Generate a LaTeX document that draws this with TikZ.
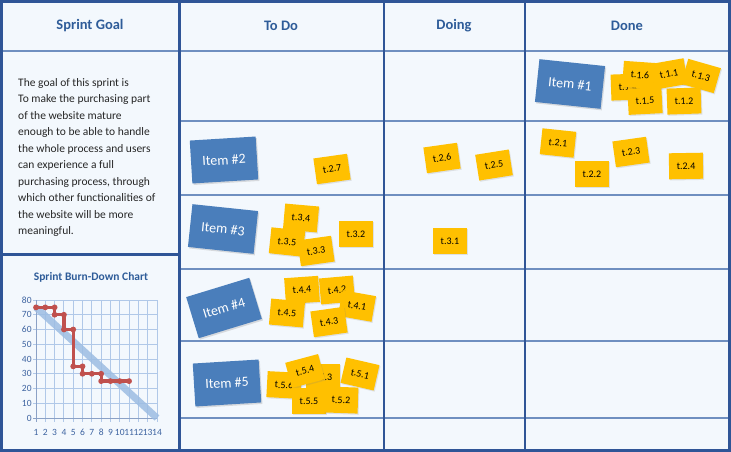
\documentclass[tikz,border=0pt]{standalone}
\usepackage{fontspec}
\setmainfont{Carlito}
\usetikzlibrary{shadows}
\definecolor{frameblue}{HTML}{2F5597}
\definecolor{lineblue}{HTML}{6F8FC0}
\definecolor{headblue}{HTML}{2E5C99}
\definecolor{bgblue}{HTML}{F3F8FD}
\definecolor{itemblue}{HTML}{4A7EBB}
\definecolor{stickyyellow}{HTML}{FFC000}
\definecolor{burnred}{HTML}{C0504D}
\definecolor{idealblue}{HTML}{9DBDE3}
\definecolor{gridblue}{HTML}{B0C8E8}
\definecolor{axisblue}{HTML}{3D63A0}
\tikzset{
  frameline/.style={draw=frameblue, line width=3pt},
  thinframe/.style={draw=frameblue, line width=1.4pt},
  rowline/.style={draw=lineblue, line width=1.4pt},
  head/.style={text=headblue, font=\fontsize{14.5}{16}\selectfont\bfseries, inner sep=0pt},
  goalline/.style={anchor=base west, inner sep=0pt, text=black!85, font=\fontsize{11.5}{13}\selectfont},
  itemcard/.style={fill=itemblue, text=white, minimum width=66pt, minimum height=43pt, inner sep=0pt,
    font=\fontsize{14}{15}\selectfont, drop shadow={opacity=0.25, shadow xshift=1.2pt, shadow yshift=-1.5pt}},
  sticky/.style={fill=stickyyellow, text=black, minimum width=34pt, minimum height=26pt, inner sep=0pt,
    font=\fontsize{10}{11}\selectfont, drop shadow={opacity=0.2, shadow xshift=1pt, shadow yshift=-1.2pt}},
  axislabel/.style={text=axisblue, font=\fontsize{9.5}{10}\selectfont, inner sep=0pt},
  charttitle/.style={text=headblue, font=\fontsize{11.5}{13}\selectfont\bfseries, inner sep=0pt},
  burnpt/.style={fill=burnred, draw=none}
}
\begin{document}
\begin{tikzpicture}[x=1pt,y=-1pt]
\useasboundingbox (0,0) rectangle (731,452);
% background
\fill[white] (0,0) rectangle (731,452);
\fill[bgblue] (1.5,1.5) rectangle (729.5,450.5);
% grid of board
\draw[rowline] (2,51) -- (729,51);
\foreach \yy in {121,195,269,341,418} \draw[rowline] (179,\yy) -- (729,\yy);
\draw[thinframe] (384,2) -- (384,450);
\draw[thinframe] (525,2) -- (525,450);
\draw[frameline] (179,2) -- (179,450);
\draw[frameline] (2,254) -- (179,254);
\draw[frameline] (1.5,1.5) rectangle (729.5,450.5);
% headers
\node[head] (hgoal) at (90,26) {Sprint Goal};
\node[head] (htodo) at (281,26) {To Do};
\node[head] (hdoing) at (454,26) {Doing};
\node[head] (hdone) at (627,26) {Done};
% goal text
\foreach \t [count=\i] in {The goal of this sprint is, To make the purchasing part, of the website mature, enough to be able to handle, the whole process and users, can experience a full, {purchasing process, through}, which other functionalities of, the website will be more, meaningful.}
  \node[goalline] (gl\i) at (18,{86.5+16.45*(\i-1)}) {\t};
% burn-down chart
\node[charttitle] (ctitle) at (91,277) {Sprint Burn-Down Chart};
\begin{scope}[shift={(36,418)}, x=9.31pt, y=1.475pt]
  \foreach \d in {1,...,13} \draw[gridblue, line width=0.9pt] (\d,-2.5) -- (\d,80);
  \foreach \v in {10,20,...,80} \draw[gridblue, line width=0.9pt] (-0.3,\v) -- (13,\v);
  \draw[axisblue!60, line width=0.9pt] (0,-2.5) -- (0,80);
  \draw[axisblue!60, line width=0.9pt] (-0.3,0) -- (13,0);
  \foreach \v in {0,10,...,80} \node[axislabel, anchor=east] (yl\v) at (-0.45,\v) {\v};
  \foreach \d in {1,...,14} \node[axislabel] (xl\d) at ({\d-1},-9.5) {\d};
  \draw[idealblue, line width=7pt, opacity=0.85] (0,75) -- (13,0);
  \draw[burnred, line width=3.3pt, line join=round]
    (0,75) -- (1,75) -- (2,75) -- (2,70) -- (3,70) -- (3,60) -- (4,60) -- (4,35) -- (5,35) -- (5,30) -- (6,30) -- (7,30) -- (7,25) -- (8,25) -- (9,25) -- (10,25);
  \foreach \p in {(0,75),(1,75),(2,75),(2,70),(3,70),(3,60),(4,60),(4,35),(5,35),(5,30),(6,30),(7,30),(7,25),(8,25),(9,25),(10,25)}
    \fill[burnpt] \p circle (2.9pt);
\end{scope}
% item cards
\node[itemcard, rotate=-6] (item1) at (570,84) {Item \#1};
\node[itemcard, rotate=3.5] (item2) at (224,160) {Item \#2};
\node[itemcard, rotate=-6] (item3) at (223,229) {Item \#3};
\node[itemcard, rotate=17] (item4) at (224,308) {Item \#4};
\node[itemcard, rotate=3.5] (item5) at (227,383) {Item \#5};
% row 1 stickies (Done)
\node[sticky, rotate=2] (t14) at (628,87) {t.1.4};
\node[sticky, rotate=-4] (t16) at (640,75) {t.1.6};
\node[sticky, rotate=10] (t11) at (669,74) {t.1.1};
\node[sticky, rotate=-16] (t13) at (701,76) {t.1.3};
\node[sticky, rotate=3] (t15) at (645,101) {t.1.5};
\node[sticky, rotate=2] (t12) at (684,101) {t.1.2};
% row 2 stickies
\node[sticky, rotate=8] (t27) at (332,169) {t.2.7};
\node[sticky, rotate=8] (t26) at (442,158) {t.2.6};
\node[sticky, rotate=9] (t25) at (494,165) {t.2.5};
\node[sticky, rotate=-6] (t21) at (558,143) {t.2.1};
\node[sticky] (t22) at (592,174) {t.2.2};
\node[sticky, rotate=8] (t23) at (631,152) {t.2.3};
\node[sticky, rotate=1] (t24) at (686,166) {t.2.4};
% row 3 stickies
\node[sticky, rotate=-5] (t34) at (301,218) {t.3.4};
\node[sticky, rotate=-6] (t35) at (287,242) {t.3.5};
\node[sticky, rotate=8] (t33) at (316,251) {t.3.3};
\node[sticky] (t32) at (356,234) {t.3.2};
\node[sticky] (t31) at (450,241) {t.3.1};
% row 4 stickies
\node[sticky, rotate=4] (t44) at (302,290) {t.4.4};
\node[sticky, rotate=5] (t42) at (337,290) {t.4.2};
\node[sticky, rotate=-10] (t41) at (357,306) {t.4.1};
\node[sticky, rotate=-5] (t45) at (287,313) {t.4.5};
\node[sticky, rotate=8] (t43) at (329,322) {t.4.3};
% row 5 stickies
\node[sticky, rotate=-3] (t56) at (284,385) {t.5.6};
\node[sticky] (t53) at (323,377) {t.5.3};
\node[sticky, rotate=15] (t54) at (305,371) {t.5.4};
\node[sticky, rotate=-13] (t51) at (360,374) {t.5.1};
\node[sticky] (t55) at (309,401) {t.5.5};
\node[sticky, rotate=-2] (t52) at (341,400) {t.5.2};
\end{tikzpicture}
\end{document}
